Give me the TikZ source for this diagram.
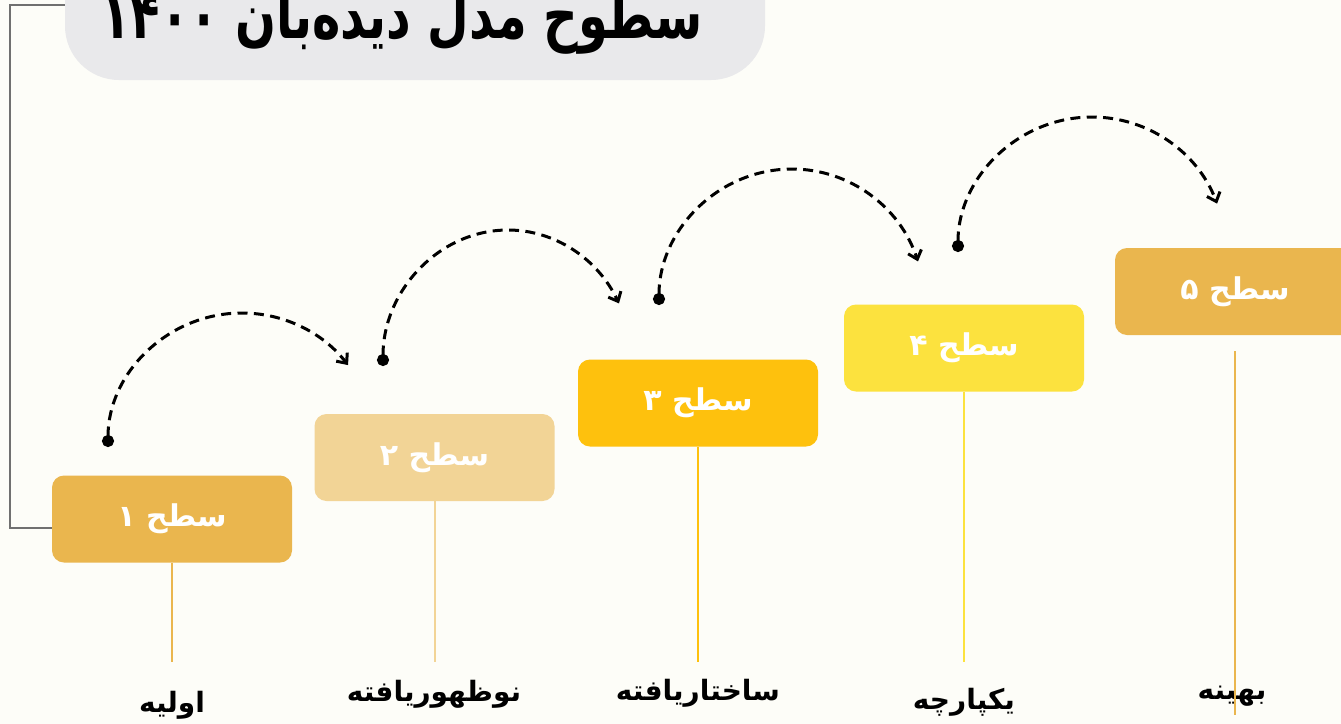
\documentclass[tikz,border=0pt]{standalone}
\usepackage{fontspec}
\usetikzlibrary{arrows.meta}
\TeXXeTstate=1
\newfontfamily\arabicfont[Script=Arabic]{DejaVu Sans}
\definecolor{bgc}{HTML}{FDFDF8}
\definecolor{titlegray}{HTML}{E9E9EB}
\definecolor{cA}{HTML}{EAB64E}
\definecolor{cB}{HTML}{F2D496}
\definecolor{cC}{HTML}{FEC10D}
\definecolor{cD}{HTML}{FCE23E}
\definecolor{bracketgray}{HTML}{707070}
\begin{document}
\begin{tikzpicture}[x=0.5pt,y=0.5pt,
  titlebox/.style={draw=none,fill=titlegray,rounded corners=27pt,minimum width=350pt,minimum height=75pt,inner sep=0pt},
  titletext/.style={font=\arabicfont\bfseries\fontsize{24}{28}\selectfont,text=black,inner sep=0pt,yscale=1.35},
  levelbox/.style={draw=none,rounded corners=6pt,minimum width=120pt,minimum height=43.5pt,inner sep=0pt,text=white,font=\arabicfont\bfseries\fontsize{15}{17}\selectfont},
  stem/.style={line width=1pt},
  lab/.style={font=\arabicfont\bfseries\fontsize{14}{16}\selectfont,text=black,inner sep=0pt},
  bracket/.style={draw=bracketgray,line width=1pt},
  flow/.style={draw=black,line width=1.5pt,dash pattern=on 5pt off 3.2pt,{Circle[length=6pt]}-{Straight Barb[length=4pt,width=7pt]}}
]
\fill[bgc] (0,0) rectangle (1341,-724);
\useasboundingbox (0,0) rectangle (1341,-724);

% title
\node[titlebox] (tb) at (415,-5) {};
\node[titletext,anchor=base] (title) at (402,-38) {\beginR سطوح مدل دیده‌بان \beginL۱۴۰۰\endL\endR};

% level boxes
\node[levelbox,fill=cA] (b1) at (172,-519) {\beginR سطح ۱\endR};
\node[levelbox,fill=cB] (b2) at (434.5,-457.5) {\beginR سطح ۲\endR};
\node[levelbox,fill=cC] (b3) at (698,-403) {\beginR سطح ۳\endR};
\node[levelbox,fill=cD] (b4) at (964,-348) {\beginR سطح ۴\endR};
\node[levelbox,fill=cA] (b5) at (1235,-291.5) {\beginR سطح ۵\endR};

% bracket from title box to first box
\draw[bracket] (tb.west) -- ++(-55,0) |- ([yshift=-4.5pt]b1.west);

% stems
\coordinate (e1) at (172,-662);
\coordinate (e2) at (434.5,-662);
\coordinate (e3) at (698,-662);
\coordinate (e4) at (964,-662);
\coordinate (e5) at (1235,-715);
\draw[stem,cA] (b1.south) -- (e1);
\draw[stem,cB] (b2.south) -- (e2);
\draw[stem,cC] (b3.south) -- (e3);
\draw[stem,cD] (b4.south) -- (e4);

% bottom labels
\node[lab] (l1) at (172,-705) {\beginR اولیه\endR};
\node[lab] (l2) at (434,-694) {\beginR نوظهوریافته\endR};
\node[lab] (l3) at (698,-693) {\beginR ساختاریافته\endR};
\node[lab] (l4) at (964,-702) {\beginR یکپارچه\endR};
\node[lab] (l5) at (1232,-696) {\beginR بهینه\endR};
\draw[stem,cA,shorten <=8pt] (b5.south) -- (e5);

% arcs
\coordinate (s1) at (108,-447);
\coordinate (s2) at (383,-366);
\coordinate (s3) at (659,-305);
\coordinate (s4) at (958,-252);
\draw[flow] (s1) arc[start angle=180,end angle=37.7,radius=67pt];
\draw[flow] (s2) arc[start angle=180,end angle=27.4,x radius=62.5pt,y radius=68pt];
\draw[flow] (s3) arc[start angle=180,end angle=18.7,x radius=66.5pt,y radius=68pt];
\draw[flow] (s4) arc[start angle=180,end angle=21,x radius=67pt,y radius=67.5pt];
\end{tikzpicture}
\end{document}
